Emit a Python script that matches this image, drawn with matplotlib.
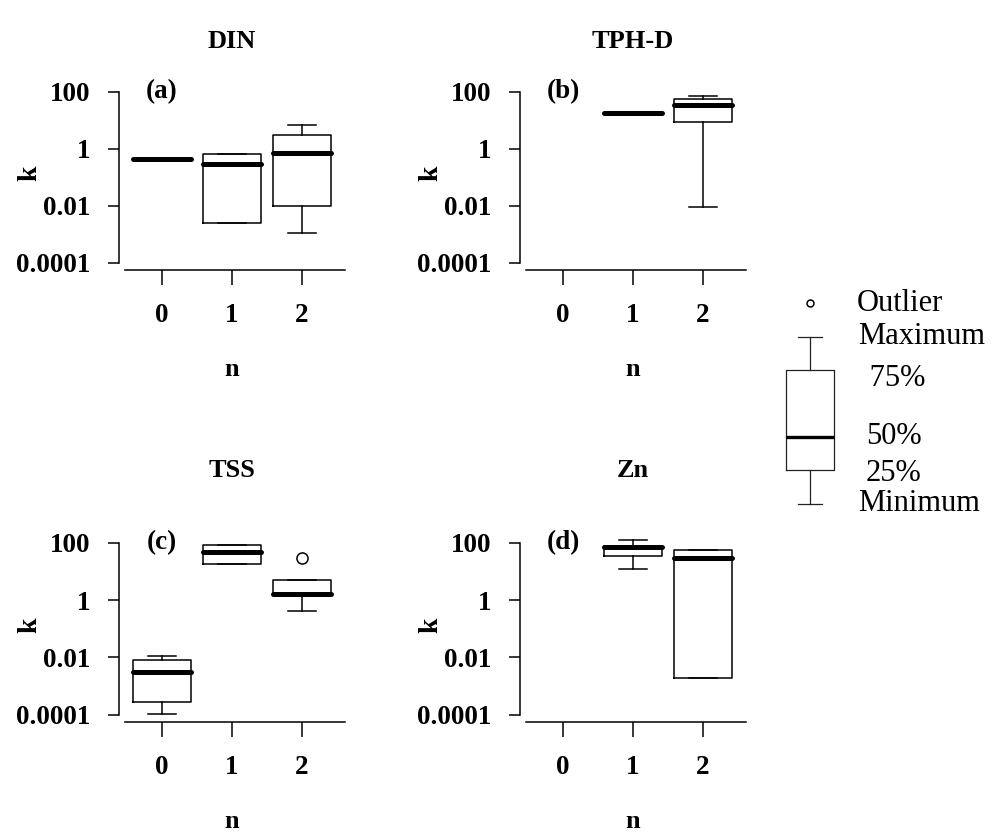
import matplotlib.pyplot as plt

plt.rcParams['font.family'] = ['Liberation Serif', 'DejaVu Serif']

# n groups on the x axis
groups = [0, 1, 2]
titles = ['DIN', 'TPH-D', 'TSS', 'Zn']
tags = ['(a)', '(b)', '(c)', '(d)']
y_ticks = [1e-4, 1e-2, 1, 100]
y_ticklabels = ['0.0001', '0.01', '1', '100']

# box statistics of k for each n (None = no data for that n)
din_whislo = [0.45, 0.0025, 0.0011]
din_q1 = [0.45, 0.0025, 0.010]
din_med = [0.45, 0.30, 0.72]
din_q3 = [0.45, 0.67, 3.1]
din_whishi = [0.45, 0.67, 6.9]
din_fliers = [[], [], []]

tph_whislo = [None, 18, 0.0092]
tph_q1 = [None, 18, 8.9]
tph_med = [None, 18, 35]
tph_q3 = [None, 18, 56]
tph_whishi = [None, 18, 71]
tph_fliers = [[], [], []]

tss_whislo = [0.00011, 18, 0.41]
tss_q1 = [0.00028, 18, 1.55]
tss_med = [0.0031, 47, 1.6]
tss_q3 = [0.0081, 83, 5.0]
tss_whishi = [0.0112, 83, 5.0]
tss_fliers = [[], [], [29]]

zn_whislo = [None, 12, 0.0019]
zn_q1 = [None, 34, 0.0019]
zn_med = [None, 70, 29]
zn_q3 = [None, 75, 55]
zn_whishi = [None, 123, 55]
zn_fliers = [[], [], []]

panels = [
    (din_whislo, din_q1, din_med, din_q3, din_whishi, din_fliers),
    (tph_whislo, tph_q1, tph_med, tph_q3, tph_whishi, tph_fliers),
    (tss_whislo, tss_q1, tss_med, tss_q3, tss_whishi, tss_fliers),
    (zn_whislo, zn_q1, zn_med, zn_q3, zn_whishi, zn_fliers),
]

# schematic box for the key: whislo, q1, med, q3, whishi, outlier
key_stats = [0, 1, 2, 4, 5]
key_flier = [6]
key_labels = ['Outlier', 'Maximum', ' 75%', '50%', '25%', 'Minimum']
key_y = [6, 5, 3.75, 2, 0.9, 0]

W, H = 998, 834
fig = plt.figure(figsize=(W / 100, H / 100), dpi=100)


def px_axes(left, top, right, bottom):
    return fig.add_axes([left / W, 1 - bottom / H, (right - left) / W, (bottom - top) / H])


XLIM = (-0.62, 2.61)
YLIM = (10 ** -4.25, 10 ** 2.4)
col_left = [118.6, 519.6]
col_w = (XLIM[1] - XLIM[0]) * 70
row_bottom = [270, 722]
row_h = [(2.4 + 4.25) * 28.5, (2.4 + 4.25) * 28.67]
title_y = [42, 470]

box_kw = dict(
    widths=0.84, capwidths=0.39, showfliers=True,
    boxprops=dict(color='black', linewidth=1.1),
    whiskerprops=dict(color='black', linewidth=1.1),
    capprops=dict(color='black', linewidth=1.1),
    medianprops=dict(color='black', linewidth=3.6, solid_capstyle='round'),
    flierprops=dict(marker='o', markerfacecolor='none', markeredgecolor='black',
                    markersize=8, markeredgewidth=1.1),
)

for i, (lo, q1, med, q3, hi, fl) in enumerate(panels):
    r, c = divmod(i, 2)
    left = col_left[c]
    bottom = row_bottom[r]
    ax = px_axes(left, bottom - row_h[r], left + col_w, bottom)

    stats, pos = [], []
    for j, g in enumerate(groups):
        if med[j] is None:
            continue
        stats.append(dict(whislo=lo[j], q1=q1[j], med=med[j], q3=q3[j],
                          whishi=hi[j], fliers=fl[j]))
        pos.append(g)
    ax.bxp(stats, positions=pos, **box_kw)

    ax.set_yscale('log')
    ax.set_xlim(XLIM)
    ax.set_ylim(YLIM)
    ax.set_xticks(groups)
    ax.set_xticklabels([str(g) for g in groups])
    ax.set_yticks(y_ticks)
    ax.set_yticklabels(y_ticklabels)
    ax.minorticks_off()
    for s in ['top', 'right']:
        ax.spines[s].set_visible(False)
    ax.spines['left'].set_bounds(1e-4, 100)
    ax.spines['bottom'].set_bounds(-0.53, XLIM[1])
    for s in ['left', 'bottom']:
        ax.spines[s].set_linewidth(1.1)
    ax.tick_params(axis='y', length=8, width=1.1, pad=12, labelsize=19.5)
    ax.tick_params(axis='x', length=11, width=1.1, pad=13, labelsize=19.5)
    for lab in ax.get_xticklabels() + ax.get_yticklabels():
        lab.set_fontweight('bold')
    ax.patch.set_visible(False)

    ax.text(0, 100, tags[i], ha='center', va='center', fontsize=19.5, fontweight='bold')

    xc = left + (groups[1] - XLIM[0]) * 70
    fig.text(xc / W, 1 - title_y[r] / H, titles[i], ha='center', va='center',
             fontsize=19, fontweight='bold')
    fig.text(xc / W, 1 - (bottom + 100) / H, 'n', ha='center', va='center',
             fontsize=19, fontweight='bold')
    fig.text((left - 89) / W, 1 - (bottom - 97) / H, 'k', ha='center', va='center',
             rotation=90, fontsize=20, fontweight='bold')

# key explaining the box elements
kax = px_axes(770, 290, 850, 512)
kax.bxp([dict(whislo=key_stats[0], q1=key_stats[1], med=key_stats[2],
              q3=key_stats[3], whishi=key_stats[4], fliers=key_flier)],
        positions=[0], widths=0.59, capwidths=0.31, showfliers=True,
        boxprops=dict(color='#222222', linewidth=0.9),
        whiskerprops=dict(color='#222222', linewidth=0.9),
        capprops=dict(color='#222222', linewidth=0.9),
        medianprops=dict(color='black', linewidth=2.4),
        flierprops=dict(marker='o', markerfacecolor='none', markeredgecolor='black',
                        markersize=5, markeredgewidth=1.1))
kax.set_xlim(-0.5, 0.5)
kax.set_ylim(-0.24, 6.39)
kax.axis('off')

key_x = [857, 858, 862, 866, 866, 858]
for lab, yv, xp in zip(key_labels, key_y, key_x):
    # label sits level with its key element
    kax.annotate(lab, xy=(0, yv), xycoords=('axes fraction', 'data'),
                 xytext=(xp - 770, 0), textcoords='offset pixels',
                 ha='left', va='center', fontsize=22, annotation_clip=False)

fig.savefig('out.png', dpi=100)
